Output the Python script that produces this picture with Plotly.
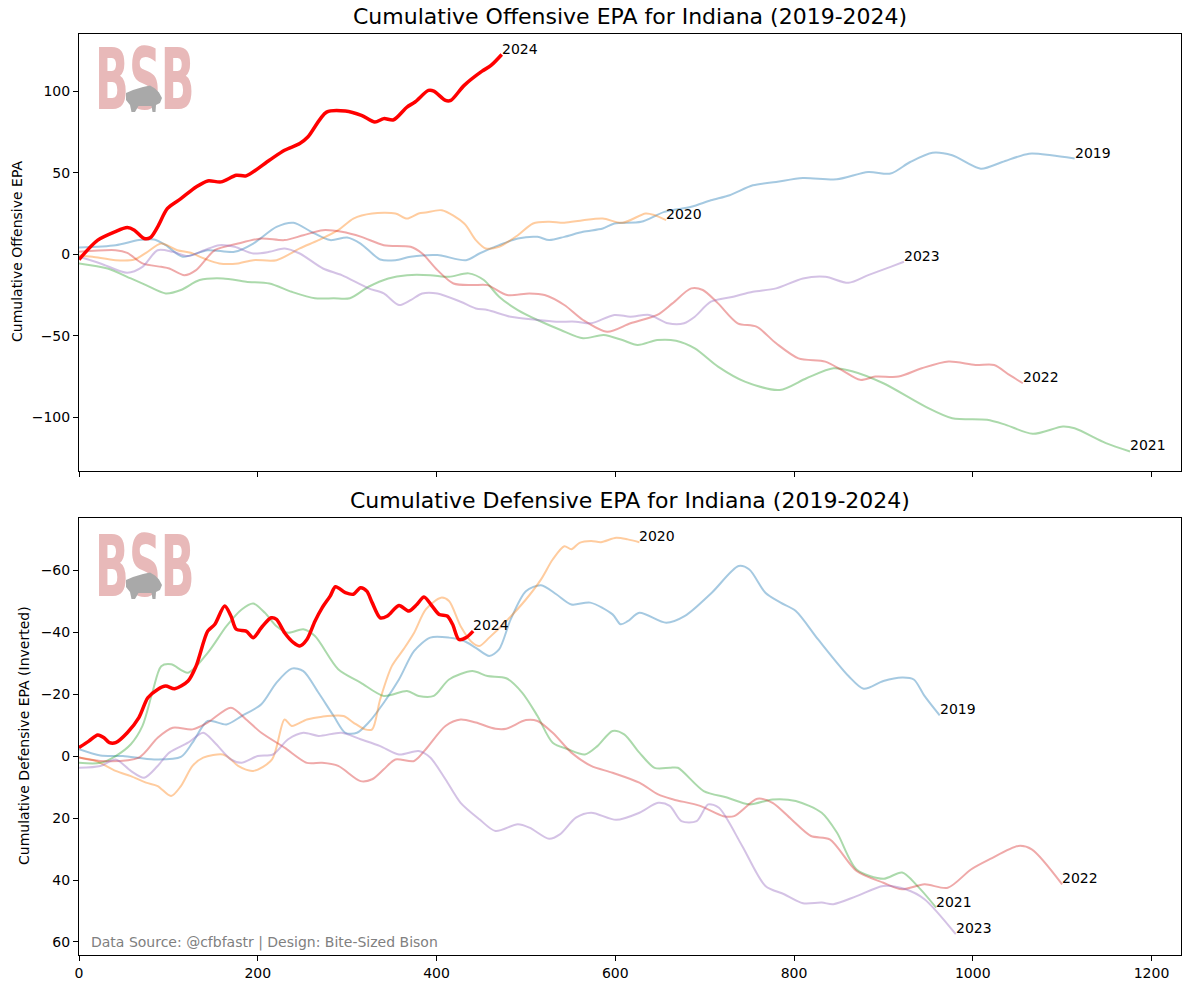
import plotly.graph_objects as go
from plotly.subplots import make_subplots

# ---------------- Offensive cumulative EPA ----------------
off_x_2019 = [0,41,67,84,97,116,144,174,195,221,240,260,281,300,315,337,354,371,401,433,448,470,491,513,526,543,564,586,599,629,655,685,707,728,754,780,810,848,883,908,930,955,977,1009,1033,1063,1088,1114]
off_y_2019 = [4.1,5.5,8.6,9.0,5.5,-1.6,2.4,1.4,6.5,16.7,19.2,13.7,8.6,10.2,6.5,-3.3,-3.7,-1.6,-0.6,-3.7,0.4,5.5,9.6,10.6,8.6,10.6,13.7,15.7,18.8,19.8,25.9,29.0,33.0,36.1,42.2,44.3,46.7,45.9,50.4,49.4,56.5,62.2,60.6,52.4,56.5,61.6,60.6,58.6]

off_x_2020 = [0,15,41,62,75,92,110,125,140,157,178,195,221,247,268,290,307,328,354,367,380,388,406,431,444,455,470,491,508,526,543,564,586,608,634,644,657]
off_y_2020 = [-0.8,-1.6,-3.7,-3.3,0.8,6.5,2.4,0.8,-2.7,-5.7,-5.7,-3.7,-3.7,3.5,8.6,14.7,21.8,24.9,24.9,21.8,24.9,25.5,26.9,18.8,8.6,3.5,4.5,11.6,18.8,19.8,19.2,20.8,21.8,19.2,24.9,23.9,20.8]

off_x_2021 = [0,32,58,75,97,114,135,161,187,213,238,264,285,303,324,346,367,393,414,436,453,470,491,513,539,564,587,608,625,647,668,689,715,745,784,814,844,865,900,947,977,1016,1037,1067,1101,1114,1149,1176]
off_y_2021 = [-5.7,-8.8,-14.9,-19.0,-24.1,-22.0,-15.9,-14.9,-16.9,-18.0,-23.1,-27.1,-27.1,-27.1,-20.0,-14.9,-12.9,-12.9,-13.9,-11.8,-15.9,-26.1,-34.3,-40.4,-46.5,-51.6,-49.6,-52.7,-55.7,-52.7,-53.1,-57.8,-69.0,-78.2,-83.3,-76.1,-70.0,-71.8,-79.2,-93.5,-100.6,-101.6,-104.7,-110.2,-105.7,-106.8,-115.9,-121.0]

off_x_2022 = [0,41,54,71,92,101,118,131,152,178,204,230,251,273,294,316,341,371,384,401,419,440,457,479,504,521,543,564,591,617,647,664,685,698,715,737,758,780,805,835,853,874,891,917,943,973,1003,1024,1041,1056]
off_y_2022 = [1.4,2.4,0.8,-5.7,-7.8,-8.8,-12.9,-9.8,2.4,6.5,9.6,8.6,11.6,14.7,13.7,10.6,5.5,4.5,0.4,-9.8,-18.0,-19.0,-19.0,-25.1,-24.1,-25.1,-31.2,-40.4,-47.6,-42.4,-37.3,-30.2,-21.0,-22.0,-30.2,-42.4,-44.5,-54.7,-63.9,-65.9,-71.0,-77.1,-75.1,-75.1,-70.0,-65.9,-68.0,-68.0,-74.1,-79.2]

off_x_2023 = [0,24,54,71,88,105,122,140,157,174,195,213,230,247,273,294,324,341,358,371,384,401,427,444,457,483,513,534,556,573,599,617,638,659,677,689,707,732,754,780,810,835,861,883,908,923]
off_y_2023 = [-1.6,-5.7,-11.4,-7.8,2.4,1.4,-1.2,2.4,5.5,4.5,0.4,1.4,3.5,0.4,-8.8,-12.9,-21.0,-24.1,-31.2,-28.2,-24.1,-24.1,-29.2,-33.3,-34.3,-38.4,-40.4,-41.4,-41.4,-42.4,-37.3,-38.4,-37.3,-42.4,-42.4,-38.4,-29.2,-26.1,-23.1,-21.0,-14.9,-13.9,-17.6,-12.9,-7.8,-4.7]

off_x_2024 = [0,21,40,54,62,73,80,88,99,114,131,144,159,176,187,213,230,247,256,277,298,316,331,341,352,367,376,391,397,410,416,431,451,461,473]
off_y_2024 = [-3.3,8.6,13.7,16.3,14.7,9.6,10.2,16.7,28.0,34.0,41.2,44.9,44.3,48.4,48.0,57.6,63.7,67.8,71.8,87.1,87.8,85.1,81.0,83.1,82.4,90.2,93.3,100.4,100.0,94.3,94.3,103.5,112.2,115.7,122.4]

# ---------------- Defensive cumulative EPA ----------------
def_x_2019 = [0,24,49,84,114,127,144,165,182,204,221,238,251,268,285,298,311,324,341,358,375,393,414,431,444,459,470,483,500,517,534,551,572,597,606,614,627,657,678,708,738,750,768,785,802,827,861,878,900,921,934,946,963]
def_y_2019 = [-2.2,-0.2,0.0,1.1,0.3,-4.3,-11.3,-10.2,-12.9,-16.7,-23.7,-28.2,-27.4,-20.4,-12.9,-7.5,-7.5,-10.8,-17.2,-24.7,-33.9,-38.2,-38.2,-37.1,-34.9,-32.3,-34.4,-44.1,-53.2,-55.1,-52.2,-48.9,-49.5,-45.7,-42.5,-43.5,-46.2,-43.0,-45.2,-52.7,-61.3,-60.2,-52.7,-49.5,-46.8,-37.6,-25.8,-21.7,-24.2,-25.3,-24.7,-19.4,-13.1]

def_x_2020 = [0,19,41,58,75,88,103,114,127,139,161,170,178,195,216,230,238,255,272,296,307,320,328,337,350,363,375,388,405,414,427,440,448,459,478,500,517,530,543,551,560,573,584,601,614,627]
def_y_2020 = [0.5,1.6,4.8,6.5,8.6,9.7,12.9,9.7,3.2,0.5,-0.5,1.1,3.2,4.8,1.1,-11.8,-9.7,-11.8,-12.7,-12.9,-10.8,-8.6,-8.6,-18.3,-29.0,-34.4,-39.8,-47.3,-51.1,-50.0,-41.9,-36.6,-35.5,-38.2,-43.5,-50.5,-57.0,-63.4,-67.7,-66.7,-68.8,-69.4,-69.0,-70.4,-69.9,-69.0]

def_x_2021 = [0,24,41,58,71,82,92,103,122,144,165,182,195,208,221,234,251,264,290,315,341,367,380,397,414,440,457,478,496,513,530,547,566,580,597,610,627,644,661,670,699,725,750,776,802,831,848,870,900,921,938,959]
def_y_2021 = [2.2,2.2,0.0,-3.8,-9.7,-20.4,-29.0,-29.6,-26.9,-33.3,-41.9,-47.3,-49.2,-46.2,-41.9,-39.8,-40.9,-38.7,-28.0,-23.7,-19.4,-21.0,-19.4,-19.4,-24.7,-27.4,-25.8,-25.1,-20.4,-12.9,-4.3,-2.2,-0.5,-3.2,-8.1,-7.0,-1.1,3.8,3.8,3.8,11.3,13.4,15.6,14.0,14.5,18.3,24.7,36.6,39.6,37.6,41.9,48.9]

def_x_2022 = [0,24,67,88,105,127,144,170,187,204,230,255,272,290,315,328,341,354,375,388,410,427,444,466,478,500,513,530,551,573,597,627,648,665,695,721,733,759,776,797,819,840,870,900,921,946,972,998,1019,1051,1066,1100]
def_y_2022 = [0.5,1.6,0.5,-5.9,-9.1,-8.6,-10.8,-15.6,-11.8,-7.5,-2.7,2.2,2.2,3.2,8.1,7.5,4.3,1.1,1.6,-2.2,-9.7,-11.8,-10.8,-8.8,-8.8,-11.6,-11.3,-7.5,-1.1,3.2,5.4,8.6,12.4,14.0,16.1,19.4,19.4,13.8,15.1,20.4,25.8,26.9,37.1,40.9,43.0,41.4,42.5,36.6,33.3,29.0,30.1,41.4]

def_x_2023 = [0,24,41,58,73,88,101,122,139,152,170,182,200,217,234,251,268,294,315,337,358,380,393,410,427,448,466,491,504,526,538,556,573,601,627,648,661,674,691,704,716,742,768,789,810,831,844,870,900,925,946,981]
def_y_2023 = [3.8,3.2,1.1,4.8,7.0,3.2,-1.1,-4.3,-7.5,-4.3,1.1,2.2,0.0,-0.5,-5.4,-7.5,-6.5,-7.5,-5.4,-3.2,-0.5,-1.6,0.5,7.5,15.1,20.4,24.2,22.0,23.1,26.7,25.3,19.9,18.3,20.6,18.3,15.1,16.1,21.0,21.0,15.6,16.7,29.0,41.9,44.6,47.5,47.3,47.8,45.2,41.9,43.0,46.2,57.5]

def_x_2024 = [0,11,21,28,34,41,54,67,77,88,97,107,122,131,144,152,163,170,176,187,195,204,215,221,230,240,247,255,264,272,281,287,298,307,315,322,328,337,345,358,369,378,386,395,403,412,418,425,433,441]
def_y_2024 = [-2.7,-4.8,-6.8,-5.9,-4.3,-4.3,-7.5,-12.4,-18.8,-21.5,-22.6,-21.7,-24.2,-29.0,-40.3,-42.5,-48.4,-45.2,-40.9,-40.3,-38.2,-41.4,-44.6,-44.1,-39.8,-36.6,-35.5,-37.6,-43.5,-47.8,-51.6,-54.6,-52.7,-52.2,-54.3,-53.2,-49.5,-44.6,-45.2,-48.6,-46.8,-48.9,-51.3,-48.4,-45.7,-45.2,-42.5,-37.6,-38.2,-40.3]

years = ["2019", "2020", "2021", "2022", "2023", "2024"]
off_x = [off_x_2019, off_x_2020, off_x_2021, off_x_2022, off_x_2023, off_x_2024]
off_y = [off_y_2019, off_y_2020, off_y_2021, off_y_2022, off_y_2023, off_y_2024]
def_x = [def_x_2019, def_x_2020, def_x_2021, def_x_2022, def_x_2023, def_x_2024]
def_y = [def_y_2019, def_y_2020, def_y_2021, def_y_2022, def_y_2023, def_y_2024]

colors = ["rgba(31,119,180,0.4)", "rgba(255,127,14,0.4)", "rgba(44,160,44,0.4)",
          "rgba(214,39,40,0.4)", "rgba(148,103,189,0.4)", "#ff0000"]
widths = [2, 2, 2, 2, 2, 3.5]

W, H = 1189, 989
ML, MR, MT, MB = 79, 8, 34, 34
PW, PH = W - ML - MR, H - MT - MB
FONT = "DejaVu Sans, Verdana, sans-serif"

def pxx(px):
    return (px - ML) / PW

def pyy(py):
    return (H - MB - py) / PH

fig = make_subplots(rows=2, cols=1, shared_xaxes=True)

for i, yr in enumerate(years):
    fig.add_trace(go.Scatter(x=off_x[i], y=off_y[i], mode="lines",
                             line=dict(color=colors[i], width=widths[i], shape="spline", smoothing=0.8),
                             showlegend=False, hoverinfo="skip"), row=1, col=1)
    fig.add_trace(go.Scatter(x=def_x[i], y=def_y[i], mode="lines",
                             line=dict(color=colors[i], width=widths[i], shape="spline", smoothing=0.8),
                             showlegend=False, hoverinfo="skip"), row=2, col=1)

annotations = []
for i, yr in enumerate(years):
    annotations.append(dict(x=off_x[i][-1], y=off_y[i][-1], xref="x", yref="y", text=yr,
                            showarrow=False, xanchor="left", yanchor="bottom", yshift=-4, xshift=-2,
                            font=dict(family=FONT, size=14, color="black")))
    annotations.append(dict(x=def_x[i][-1], y=def_y[i][-1], xref="x2", yref="y2", text=yr,
                            showarrow=False, xanchor="left", yanchor="bottom", yshift=-4, xshift=-2,
                            font=dict(family=FONT, size=14, color="black")))

# subplot titles
annotations.append(dict(x=0.5, y=1, xref="x domain", yref="y domain", yanchor="bottom", yshift=3,
                        text="Cumulative Offensive EPA for Indiana (2019-2024)", showarrow=False,
                        font=dict(family=FONT, size=22, color="black")))
annotations.append(dict(x=0.5, y=1, xref="x2 domain", yref="y2 domain", yanchor="bottom", yshift=3,
                        text="Cumulative Defensive EPA for Indiana (2019-2024)", showarrow=False,
                        font=dict(family=FONT, size=22, color="black")))
# y axis titles
annotations.append(dict(x=pxx(17), y=pyy(252), xref="paper", yref="paper", textangle=-90,
                        text="Cumulative Offensive EPA", showarrow=False, xanchor="center", yanchor="middle",
                        font=dict(family=FONT, size=14, color="black")))
annotations.append(dict(x=pxx(24), y=pyy(736), xref="paper", yref="paper", textangle=-90,
                        text="Cumulative Defensive EPA (Inverted)", showarrow=False, xanchor="center", yanchor="middle",
                        font=dict(family=FONT, size=14, color="black")))
# source note
annotations.append(dict(x=pxx(89), y=pyy(942), xref="paper", yref="paper", xanchor="left", yanchor="middle",
                        text="Data Source: @cfbfastr | Design: Bite-Sized Bison", showarrow=False,
                        font=dict(family=FONT, size=14, color="#808080")))

# logo (BSB + bison silhouette) in both panels
bison = [(126, 93), (133, 90), (143, 87), (150, 85.5), (155, 88.5), (159, 92.5), (162, 98), (160, 103),
         (156, 105), (155.5, 112), (152.5, 112), (151.5, 106), (138.5, 106), (135, 112), (131.5, 112),
         (130, 105), (126, 100)]
shapes = []
for dy in (0, 487):
    annotations.append(dict(x=pxx(145), y=pyy(79.5 + dy), xref="paper", yref="paper", xanchor="center",
                            yanchor="middle", text="<b>BSB</b>", showarrow=False,
                            font=dict(family="DejaVu Sans Condensed, DejaVu Sans, sans-serif",
                                      size=88, color="#e8b9b9")))
    path = "M " + " L ".join(f"{pxx(a):.5f},{pyy(b + dy):.5f}" for a, b in bison) + " Z"
    shapes.append(dict(type="path", xref="paper", yref="paper", path=path,
                       fillcolor="#a9a9a9", line=dict(width=0)))

axis_common = dict(showline=True, linecolor="black", linewidth=1, mirror=True, ticks="outside",
                   ticklen=5, tickwidth=1, tickcolor="black", showgrid=False, zeroline=False,
                   tickfont=dict(family=FONT, size=14, color="black"))

fig.update_layout(
    width=W, height=H, autosize=False, margin=dict(l=ML, r=MR, t=MT, b=MB),
    paper_bgcolor="white", plot_bgcolor="white",
    annotations=annotations, shapes=shapes, showlegend=False,
    xaxis=dict(domain=[0, 1], range=[0, 1233], tickvals=[0, 200, 400, 600, 800, 1000, 1200],
               showticklabels=False, **axis_common),
    xaxis2=dict(domain=[0, 1], range=[0, 1233], tickvals=[0, 200, 400, 600, 800, 1000, 1200],
                **axis_common),
    yaxis=dict(domain=[pyy(471), 1], range=[-133, 135], tickvals=[-100, -50, 0, 50, 100], **axis_common),
    yaxis2=dict(domain=[0, pyy(518)], range=[64.2, -76.8], tickvals=[-60, -40, -20, 0, 20, 40, 60],
                **axis_common),
)

# condense the logo letters horizontally (they are tall and narrow in the original logo)
# and draw the bison silhouette on top of the letters
post = """
document.body.style.margin='0';
document.body.style.overflow='hidden';
function fixLogo(){
  var gd = document.querySelector('.plotly-graph-div');
  if(!gd) return false;
  var texts = gd.querySelectorAll('text.annotation-text');
  var done = 0;
  texts.forEach(function(t){
    if(t.textContent === 'BSB' && !t.getAttribute('data-fixed')){
      var b = t.getBBox();
      var cx = b.x + b.width/2, cy = b.y + b.height/2;
      t.setAttribute('transform', 'translate('+cx+','+cy+') scale(0.56,0.98) translate('+(-cx)+','+(-cy)+')');
      t.setAttribute('data-fixed','1');
      done++;
    }
  });
  var info = gd.querySelector('.infolayer');
  if(info){
    gd.querySelectorAll('.shapelayer path').forEach(function(p){ info.appendChild(p); });
  }
  return done > 0;
}
if(!fixLogo()){ setTimeout(fixLogo, 50); }
"""

fig.write_html("out.html", config={"displayModeBar": False}, post_script=post)
